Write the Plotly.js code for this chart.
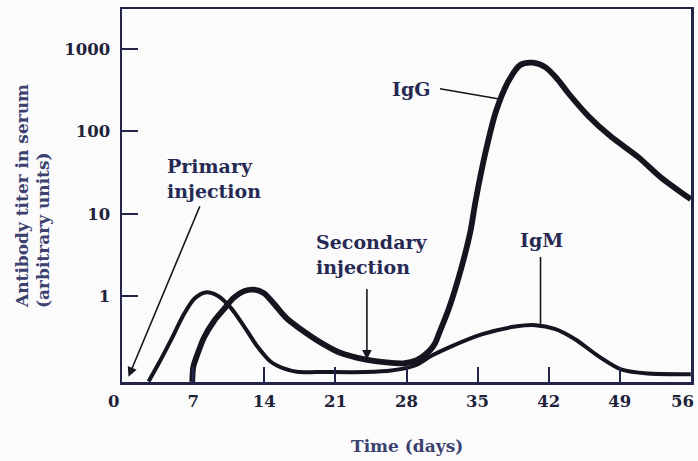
<!DOCTYPE html>
<html>
<head>
<meta charset="utf-8">
<script src="https://cdn.plot.ly/plotly-3.0.1.min.js"></script>
<style>
  html, body { margin: 0; padding: 0; background: #fbfbfc; }
  #chart { width: 698px; height: 461px; }
</style>
</head>
<body>
<div id="chart"></div>
<script>
// ---- data ----
const daysIgM  = [2.6, 3.6, 4.8, 6.1, 7.1, 8.2, 9.4, 10.7, 12.0, 13.3, 14.6, 15.9, 17.2, 20.0, 24.0, 26.5, 28.9, 30.5, 32.2, 35.4, 38.7, 40.7, 42.6, 44.6, 46.9, 49.2, 51.8, 56.0];
const titerIgM = [0.092, 0.153, 0.293, 0.61, 0.93, 1.11, 1.01, 0.72, 0.43, 0.246, 0.161, 0.133, 0.121, 0.12, 0.12, 0.125, 0.145, 0.19, 0.239, 0.343, 0.427, 0.444, 0.40, 0.30, 0.187, 0.128, 0.115, 0.113];

const daysIgG  = [6.9, 7.0, 7.43, 8.07, 9.05, 10.0, 11.0, 12.0, 13.0, 13.95, 14.9, 16.2, 17.5, 19.5, 21.4, 24.0, 26.0, 27.7, 29.0, 30.3, 30.8, 31.2, 32.2, 33.4, 34.3, 34.8, 35.8, 36.8, 38.0, 39.2, 40.4, 41.7, 42.9, 43.9, 45.9, 48.1, 50.8, 53.0, 56.0];
const titerIgG = [0.091, 0.138, 0.2, 0.317, 0.50, 0.69, 0.96, 1.15, 1.2, 1.09, 0.82, 0.537, 0.404, 0.276, 0.207, 0.170, 0.157, 0.153, 0.167, 0.22, 0.266, 0.351, 0.723, 2.2, 6.15, 14.2, 57, 173, 398, 638, 681, 597, 425, 294, 154, 87, 49, 28, 15];

// x tick labels: the first and last sit at the frame corners and are drawn as annotations
const xTickVals = [0, 7, 14, 21, 28, 35, 42, 49, 56];
const xTickText = ['0', '7', '14', '21', '28', '35', '42', '49', '56'];
const yTickVals = [1, 10, 100, 1000];
const yTickText = ['1', '10', '100', '1000'];

const xTitle = 'Time (days)';
const yTitle1 = 'Antibody titer in serum';
const yTitle2 = '(arbitrary units)';

// ---- styling ----
const INK = '#15151f';
const FRAME = '#23244a';
const TXT = '#262a52';
const YT = '#3c4170';
const TICK = '#22233a';
const FONT = 'DejaVu Serif, Liberation Serif, serif';

const L10 = Math.log10;
const nX = xTickVals.length;

const traces = [
  { x: daysIgM, y: titerIgM, type: 'scatter', mode: 'lines', name: 'IgM',
    line: { color: INK, width: 4, shape: 'spline', smoothing: 0.8 }, hoverinfo: 'skip' },
  { x: daysIgG, y: titerIgG, type: 'scatter', mode: 'lines', name: 'IgG',
    line: { color: INK, width: 5.8, shape: 'spline', smoothing: 0.8 }, hoverinfo: 'skip' }
];

const tickFont = { family: FONT, size: 16.5, color: TICK, weight: 'bold' };

const layout = {
  width: 698, height: 461,
  margin: { l: 122, r: 7, t: 9, b: 79, pad: 0 },
  paper_bgcolor: '#fbfbfc', plot_bgcolor: '#fbfbfc',
  showlegend: false,
  font: { family: FONT, color: TXT },
  xaxis: {
    range: [-0.02, 56.02], showgrid: false, zeroline: false,
    showline: true, linecolor: FRAME, linewidth: 2.5, mirror: true,
    ticks: 'inside', ticklen: 15, tickwidth: 2, tickcolor: FRAME,
    tickvals: xTickVals.slice(1, nX - 1), ticktext: xTickText.slice(1, nX - 1),
    tickfont: tickFont, ticklabelstandoff: 3
  },
  yaxis: {
    type: 'log', range: [-1.042, 3.485], showgrid: false, zeroline: false,
    showline: true, linecolor: FRAME, linewidth: 2.5, mirror: true,
    ticks: 'inside', ticklen: 16, tickwidth: 2, tickcolor: FRAME,
    tickvals: yTickVals, ticktext: yTickText,
    tickfont: tickFont, ticklabelstandoff: 6
  },
  annotations: [
    // corner x labels
    { text: xTickText[0], xref: 'x', yref: 'paper', x: xTickVals[0], y: 0, xanchor: 'center', yanchor: 'top',
      xshift: -9, yshift: -8, showarrow: false, font: tickFont },
    { text: xTickText[nX - 1], xref: 'x', yref: 'paper', x: xTickVals[nX - 1], y: 0, xanchor: 'right', yanchor: 'top',
      xshift: 5, yshift: -8, showarrow: false, font: tickFont },
    // axis titles
    { text: xTitle, xref: 'paper', yref: 'paper', x: 0.5, y: 0, xanchor: 'center', yanchor: 'middle',
      yshift: -64, showarrow: false, font: { family: FONT, size: 17, color: YT, weight: 'bold' } },
    { text: yTitle1, xref: 'paper', yref: 'paper', x: 0, y: 0, xanchor: 'center', yanchor: 'bottom',
      xshift: -100, yshift: 72, textangle: -90, showarrow: false,
      font: { family: FONT, size: 17, color: YT, weight: 'bold' } },
    { text: yTitle2, xref: 'paper', yref: 'paper', x: 0, y: 0, xanchor: 'center', yanchor: 'bottom',
      xshift: -79, yshift: 72, textangle: -90, showarrow: false,
      font: { family: FONT, size: 17, color: YT, weight: 'bold' } },
    // labels inside the plot
    { text: 'Primary<br>injection', xref: 'x', yref: 'y', x: 4.2, y: 1.43, xanchor: 'left', yanchor: 'middle',
      align: 'left', showarrow: false, font: { family: FONT, size: 19, color: TXT, weight: 'bold' } },
    { text: 'Secondary<br>injection', xref: 'x', yref: 'y', x: 18.9, y: 0.51, xanchor: 'left', yanchor: 'middle',
      align: 'left', showarrow: false, font: { family: FONT, size: 19, color: TXT, weight: 'bold' } },
    { text: 'IgG', xref: 'x', yref: 'y', x: 28.4, y: 2.52, xanchor: 'center', yanchor: 'middle',
      showarrow: false, font: { family: FONT, size: 19, color: TXT, weight: 'bold' } },
    { text: 'IgM', xref: 'x', yref: 'y', x: 41.3, y: 0.68, xanchor: 'center', yanchor: 'middle',
      showarrow: false, font: { family: FONT, size: 19, color: TXT, weight: 'bold' } },
    // arrows
    { text: '', xref: 'x', yref: 'y', x: 0.62, y: L10(0.105), ax: 72, ay: -172,
      showarrow: true, arrowhead: 2, arrowsize: 1.2, arrowwidth: 1.6, arrowcolor: INK },
    { text: '', xref: 'x', yref: 'y', x: 24.1, y: L10(0.17), ax: 0, ay: -72,
      showarrow: true, arrowhead: 2, arrowsize: 1.2, arrowwidth: 1.6, arrowcolor: INK }
  ],
  shapes: [
    // IgG leader
    { type: 'line', xref: 'x', yref: 'y', x0: 31.3, y0: 329, x1: 37.0, y1: 249,
      line: { color: INK, width: 1.6 } },
    // IgM leader
    { type: 'line', xref: 'x', yref: 'y', x0: 41.2, y0: 2.99, x1: 41.2, y1: 0.46,
      line: { color: INK, width: 1.6 } }
  ]
};

Plotly.newPlot('chart', traces, layout, { displayModeBar: false, staticPlot: true });
</script>
</body>
</html>
